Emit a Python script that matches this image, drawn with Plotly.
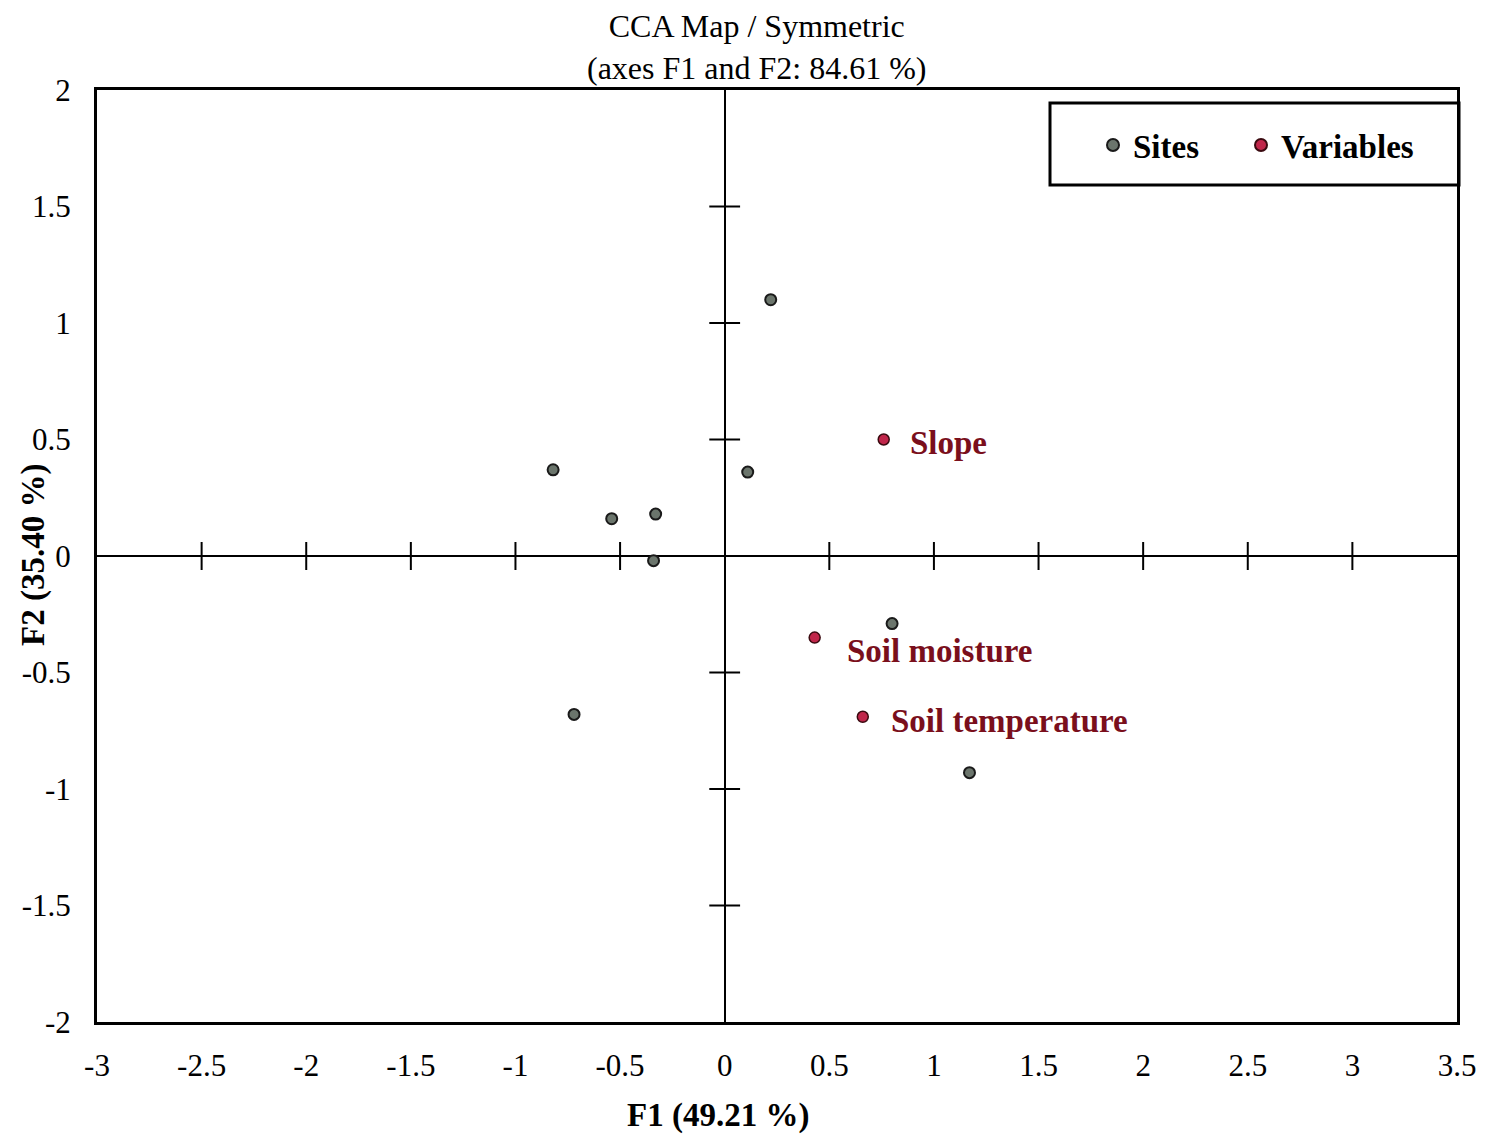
import plotly.graph_objects as go

# ---- data ----
site_x = [0.22, 0.11, -0.82, -0.54, -0.33, -0.34, -0.72, 0.80, 1.17]
site_y = [1.10, 0.36, 0.37, 0.16, 0.18, -0.02, -0.68, -0.29, -0.93]
var_names = ["Slope", "Soil moisture", "Soil temperature"]
var_x = [0.76, 0.43, 0.66]
var_y = [0.50, -0.35, -0.69]
x_ticks = [-3, -2.5, -2, -1.5, -1, -0.5, 0, 0.5, 1, 1.5, 2, 2.5, 3, 3.5]
y_ticks = [-2, -1.5, -1, -0.5, 0, 0.5, 1, 1.5, 2]
x_inner_ticks = [-2.5, -2, -1.5, -1, -0.5, 0.5, 1, 1.5, 2, 2.5, 3]
y_inner_ticks = [-1.5, -1, -0.5, 0.5, 1, 1.5]

SERIF = "Liberation Serif, Times New Roman, serif"
label_color = "#7a0f1c"

# plot area in pixels (for converting layout positions)
L, R, T, B = 97, 1457, 90, 1022
W, H = 1490, 1134


def px_x(p):
    return (p - L) / (R - L)


def px_y(p):
    return (B - p) / (B - T)


fig = go.Figure()

# tick marks drawn on the zero lines
fig.add_trace(go.Scatter(
    x=x_inner_ticks, y=[0] * len(x_inner_ticks), mode="markers",
    marker=dict(symbol="line-ns-open", size=20, color="black",
                line=dict(color="black", width=2)),
    showlegend=False, hoverinfo="skip"))
fig.add_trace(go.Scatter(
    x=[0] * len(y_inner_ticks), y=y_inner_ticks, mode="markers",
    marker=dict(symbol="line-ew-open", size=22, color="black",
                line=dict(color="black", width=2)),
    showlegend=False, hoverinfo="skip"))

fig.add_trace(go.Scatter(
    x=site_x, y=site_y, mode="markers", name="<b>Sites</b>", legend="legend",
    marker=dict(size=11, color="#6b756c", line=dict(color="#1a1a1a", width=2))))
fig.add_trace(go.Scatter(
    x=var_x, y=var_y, mode="markers", name="<b>Variables</b>", legend="legend2",
    marker=dict(size=11, color="#c0264a", line=dict(color="#3a0a10", width=1.5))))

shifts = [(24, -3), (30, -13), (26, -4)]
for name, vx, vy, (dx, dy) in zip(var_names, var_x, var_y, shifts):
    fig.add_annotation(x=vx, y=vy, text="<b>%s</b>" % name, showarrow=False,
                       xanchor="left", yanchor="middle", xshift=dx, yshift=dy,
                       font=dict(family=SERIF, size=33, color=label_color))

# title
fig.add_annotation(xref="paper", yref="paper", x=px_x(757), y=px_y(47),
                   text="CCA Map / Symmetric<br>(axes F1 and F2: 84.61 %)",
                   showarrow=False, xanchor="center", yanchor="middle",
                   font=dict(family=SERIF, size=32, color="black"))

# axis titles
fig.add_annotation(xref="paper", yref="paper", x=px_x(718), y=px_y(1115),
                   text="<b>F1 (49.21 %)</b>", showarrow=False,
                   xanchor="center", yanchor="middle",
                   font=dict(family=SERIF, size=33, color="black"))
fig.add_annotation(xref="paper", yref="paper", x=px_x(33), y=px_y(555),
                   text="<b>F2 (35.40 %)</b>", showarrow=False, textangle=-90,
                   xanchor="center", yanchor="middle",
                   font=dict(family=SERIF, size=33, color="black"))

# legend frame
fig.add_shape(type="rect", xref="paper", yref="paper",
              x0=px_x(1050), x1=px_x(1459), y0=px_y(185), y1=px_y(103),
              line=dict(color="black", width=3), fillcolor="white", layer="below")

legend_style = dict(orientation="h", xanchor="left", y=px_y(145), yanchor="middle",
                    bgcolor="rgba(0,0,0,0)", borderwidth=0,
                    font=dict(family=SERIF, size=33, color="black"),
                    itemsizing="constant", itemwidth=30)

fig.update_layout(
    width=W, height=H,
    margin=dict(l=L, r=W - R, t=T, b=H - B),
    paper_bgcolor="white", plot_bgcolor="white",
    font=dict(family=SERIF, color="black"),
    legend=dict(x=px_x(1093), **legend_style),
    legend2=dict(x=px_x(1241), **legend_style),
    xaxis=dict(range=[-3, 3.5], tickvals=x_ticks, ticktext=[str(t) for t in x_ticks],
               showgrid=False, zeroline=True, zerolinecolor="black", zerolinewidth=2,
               showline=True, linecolor="black", linewidth=3, mirror=True,
               ticks="", tickfont=dict(family=SERIF, size=31), ticklabelstandoff=14,
               automargin=False),
    yaxis=dict(range=[-2, 2], tickvals=y_ticks, ticktext=[str(t) for t in y_ticks],
               showgrid=False, zeroline=True, zerolinecolor="black", zerolinewidth=2,
               showline=True, linecolor="black", linewidth=3, mirror=True,
               ticks="", tickfont=dict(family=SERIF, size=31), ticklabelstandoff=17,
               automargin=False),
)

fig.write_html("out.html")
